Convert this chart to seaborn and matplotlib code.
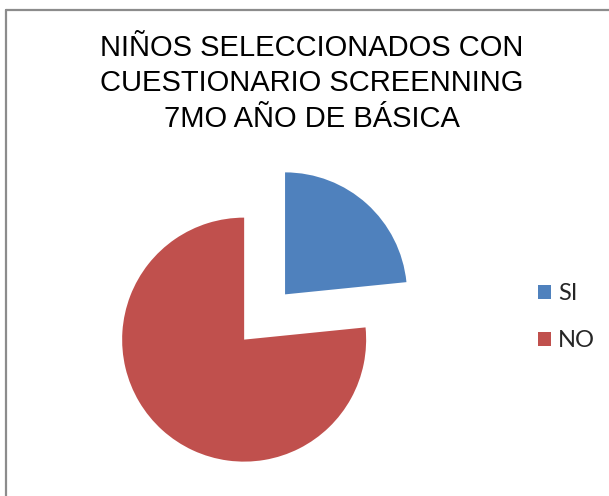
import matplotlib
matplotlib.use("Agg")
import matplotlib.pyplot as plt
import seaborn as sns
from matplotlib.lines import Line2D
from matplotlib.patches import Patch

sns.set_theme(style="white")

categories = ["SI", "NO"]
values = [23.4, 76.6]
colors = ["#4F81BD", "#C0504D"]
title_lines = ["NIÑOS SELECCIONADOS CON", "CUESTIONARIO SCREENNING", "7MO AÑO DE BÁSICA"]

W, H = 609, 496
fig = plt.figure(figsize=(W / 100, H / 100), dpi=100)
fig.patch.set_facecolor("white")

# pie axes: center at (264.6, 317) px from top-left, radius 122 px
R = 122.0
cx, cy = 264.6, 317.0
lim = 1.4
size = 2 * lim * R
ax = fig.add_axes([(cx - size / 2) / W, (H - cy - size / 2) / H, size / W, size / H])
ax.pie(values, colors=colors, startangle=90, counterclock=False,
       explode=[0.25, 0.25], radius=1.0, wedgeprops=dict(linewidth=0))
ax.set_xlim(-lim, lim)
ax.set_ylim(-lim, lim)
ax.set_aspect("equal")
ax.axis("off")

# title
fig.text(312 / W, 1 - 34 / H, "\n".join(title_lines), ha="center", va="top",
         fontsize=21, family="Liberation Sans", color="black", linespacing=1.33)

# legend
handles = [Patch(facecolor=c, edgecolor="none") for c in colors]
leg = fig.legend(handles, categories, loc="center left",
                 bbox_to_anchor=(517 / W, 1 - 317 / H), frameon=False,
                 prop=dict(family="Lato", size=17), handlelength=0.55,
                 handleheight=0.55, handletextpad=0.3, labelspacing=1.1)

# chart frame (left and top edges visible)
fig.add_artist(Line2D([6 / W, 6 / W], [0, 1 - 10 / H], transform=fig.transFigure,
                      color="#8c8c8c", linewidth=1.6))
fig.add_artist(Line2D([6 / W, 1], [1 - 10 / H, 1 - 10 / H], transform=fig.transFigure,
                      color="#8c8c8c", linewidth=1.6))

fig.savefig("out.png", dpi=100, facecolor="white")
